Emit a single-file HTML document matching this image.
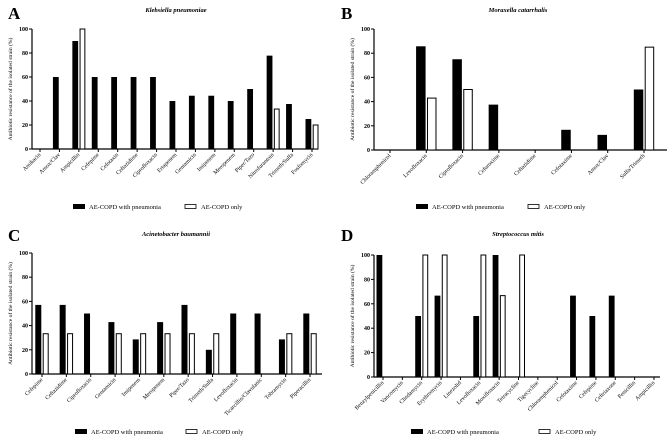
<!DOCTYPE html>
<html><head><meta charset="utf-8"><style>
body{margin:0;background:#fff}
svg{display:block;font-family:"Liberation Serif",serif}
</style></head><body>
<svg id="fig" width="669" height="442" viewBox="0 0 669 442"></svg>
<script>
const catsA=["Amikacin","Amox/Clav","Ampicillin","Cefepime","Cefotaxin","Ceftazidime","Ciprofloxacin","Ertapenem","Gentamicin","Imipenem","Meropenem","Piper/Tazo","Nitrofurantoin","Trimeth/Sulfa","Fosfomycin"];
const pneuA=[0,60,90,60,60,60,60,40,44.4,44.4,40,50,77.8,37.5,25];
const onlyA=[0,0,100,0,0,0,0,0,0,0,0,0,33.3,0,20];
const catsB=["Chloramphenicol","Levofloxacin","Ciprofloxacin","Cefuroxime","Ceftazidime","Cefotaxime","Amox/Clav","Sulfa/Trimeth"];
const pneuB=[0,85.7,75,37.5,0,16.7,12.5,50];
const onlyB=[0,42.9,50,0,0,0,0,85];
const catsC=["Cefepime","Ceftazidime","Ciprofloxacin","Gentamicin","Imipenem","Meropenem","Piper/Tazo","Trimeth/Sulfa","Levofloxacin","Ticarcillin/Clavulanic","Tobramycin","Piperacillin"];
const pneuC=[57.1,57.1,50,42.9,28.6,42.9,57.1,20,50,50,28.6,50];
const onlyC=[33.3,33.3,0,33.3,33.3,33.3,33.3,33.3,0,0,33.3,33.3];
const catsD=["Benzylpenicillin","Vancomycin","Clindamycin","Erythromycin","Linezolid","Levofloxacin","Moxifloxacin","Tetracycline","Tigecycline","Chloramphenicol","Cefotaxime","Cefepime","Ceftriaxone","Penicillin","Ampicillin"];
const pneuD=[100,0,50,66.7,0,50,100,0,0,0,66.7,50,66.7,0,0];
const onlyD=[0,0,100,100,0,100,66.7,100,0,0,0,0,0,0,0];
const yTicks=[0,20,40,60,80,100];

const NS="http://www.w3.org/2000/svg";
const svg=document.getElementById('fig');
function mk(tag,attrs,parent,text){const e=document.createElementNS(NS,tag);for(const k in attrs)e.setAttribute(k,attrs[k]);if(text!==undefined)e.textContent=text;(parent||svg).appendChild(e);return e;}

function panel(cfg){
  const g=mk('g',{});
  
  
  const yS=v=>cfg.y0-(cfg.y0-cfg.y100)*v/100;
  const n=cfg.cats.length;
  const step=(cfg.xLast-cfg.xFirst)/(n-1);
  const xS=i=>cfg.xFirst+i*step;
  const L=mk('text',{x:cfg.lx,y:cfg.ly,'font-size':17,'font-weight':'bold'},g,cfg.letter);
  
  
  const T=mk('text',{x:cfg.tx,y:cfg.ty,'font-size':6.5,'font-weight':'bold','font-style':'italic','text-anchor':'middle'},g,cfg.title);
  
  
  const yt=mk('text',{transform:`translate(${cfg.ax-20},${(cfg.y0+cfg.y100)/2}) rotate(-90)`,'font-size':5.6,'text-anchor':'middle'},g,'Antibiotic resistance of the isolated strain (%)');
  
  
  const ya=mk('line',{x1:cfg.ax,x2:cfg.ax,y1:cfg.y100,y2:cfg.y0,stroke:'#000','stroke-width':1.2},g);
  
  
  const xa=mk('line',{x1:cfg.ax,x2:cfg.axEnd,y1:cfg.y0,y2:cfg.y0,stroke:'#000','stroke-width':1.2},g);
  
  
  yTicks.forEach(t=>{
    const y=yS(t);
    const tl=mk('line',{x1:cfg.ax-3,x2:cfg.ax,y1:y,y2:y,stroke:'#000','stroke-width':1},g);
    
    
    const tt=mk('text',{x:cfg.ax-4,y:y+2,'font-size':6,'font-weight':'bold','text-anchor':'end'},g,String(t));
    
    
  });
  cfg.cats.forEach((c,i)=>{
    const x=xS(i);
    const tk=mk('line',{x1:x,x2:x,y1:cfg.y0,y2:cfg.y0+3,stroke:'#000','stroke-width':1},g);
    
    
    const lb=mk('text',{transform:`translate(${x+1},${cfg.y0+6}) rotate(-45)`,'font-size':5.8,'text-anchor':'end'},g,c);
    
    
    const bw=cfg.bw;
    const p=cfg.pneu[i];
    if(p>0){const b=mk('rect',{x:x-bw-0.7,y:yS(p),width:bw,height:cfg.y0-yS(p),fill:'#000'},g);
      
      }
    const o=cfg.only[i];
    if(o>0){const b=mk('rect',{x:x+1.2,y:yS(o),width:bw-1,height:cfg.y0-yS(o),fill:'#fff',stroke:'#000','stroke-width':1},g);
      
      }
  });
  const r1=mk('rect',{x:cfg.legX1,y:cfg.legY-3,width:12,height:5,fill:'#000'},g);
  
  
  const t1=mk('text',{x:cfg.legX1+16,y:cfg.legY+2,'font-size':6.5},g,'AE-COPD with pneumonia');
  
  
  const r2=mk('rect',{x:cfg.legX2,y:cfg.legY-2.5,width:11,height:4,fill:'#fff',stroke:'#000','stroke-width':0.8},g);
  
  
  const t2=mk('text',{x:cfg.legX2+16,y:cfg.legY+2,'font-size':6.5},g,'AE-COPD only');
  
  
}
panel({letter:'A',lx:8,ly:19,title:'Klebsiella pneumoniae',tx:176,ty:12,cats:catsA,pneu:pneuA,only:onlyA,ax:32,axEnd:318,y0:149,y100:29,xFirst:40,xLast:312,bw:5.8,legX1:73,legX2:185,legY:207});
panel({letter:'B',lx:341,ly:19,title:'Moraxella catarrhalis',tx:518,ty:12,cats:catsB,pneu:pneuB,only:onlyB,ax:374,axEnd:667,y0:150,y100:29,xFirst:390,xLast:644,bw:9.5,legX1:416,legX2:528,legY:207});
panel({letter:'C',lx:8,ly:241,title:'Acinetobacter baumannii',tx:176,ty:236,cats:catsC,pneu:pneuC,only:onlyC,ax:32,axEnd:322,y0:374,y100:253,xFirst:42,xLast:310,bw:6,legX1:75,legX2:186,legY:432});
panel({letter:'D',lx:341,ly:241,title:'Streptococcus mitis',tx:518,ty:236,cats:catsD,pneu:pneuD,only:onlyD,ax:374,axEnd:660,y0:377,y100:255,xFirst:383,xLast:654,bw:5.8,legX1:411,legX2:539,legY:432});
</script>
</body></html>
